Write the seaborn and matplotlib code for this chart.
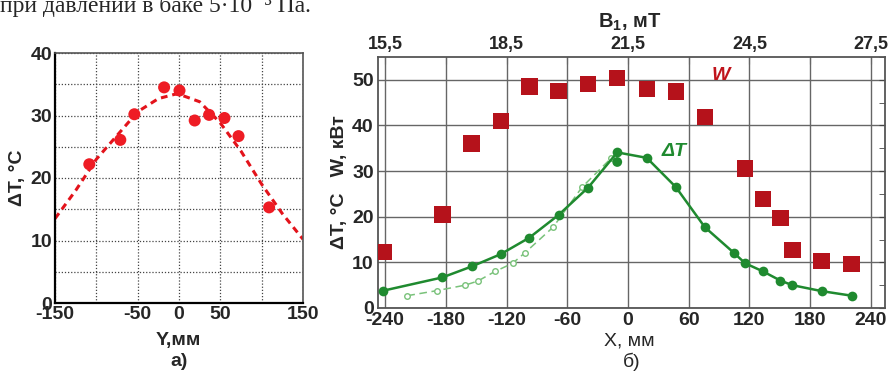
import matplotlib

matplotlib.use("Agg")
import matplotlib.pyplot as plt
import numpy as np
import pandas as pd
import seaborn as sns
from matplotlib.ticker import MultipleLocator

# panel a) -- temperature rise across Y
y_pos = [-108.5, -71, -54, -18, 0.6, 19, 36.4, 55, 72, 109]
y_dt = [22.2, 26.1, 30.2, 34.5, 34.0, 29.2, 30.1, 29.6, 26.7, 15.3]
fit_y = [-150, -125, -100, -75, -50, -25, -5, 0, 25, 50, 75, 100, 125, 150]
fit_dt = [13.5, 18.0, 23.0, 26.8, 30.6, 32.7, 33.4, 33.4, 32.2, 28.8, 24.3, 19.0, 14.3, 10.2]

# panel б) -- power W and temperature rise across X
w_x = [-241.7, -183.4, -154.4, -125.7, -97.5, -68.5, -39.3, -10.6, 18.6, 47.3, 76.0,
       115.8, 133.6, 150.7, 162.5, 191.4, 220.9]
w_kw = [12.3, 20.5, 36.0, 41.0, 48.5, 47.5, 49.1, 50.4, 48.0, 47.4, 41.9,
        30.6, 23.9, 19.7, 12.7, 10.3, 9.6]
dt_x = [-241.7, -183.4, -154.4, -125.7, -97.5, -68.5, -39.3, -10.6, 18.6, 47.3, 76.0,
        104.6, 115.8, 133.6, 150.7, 162.5, 191.4, 220.9]
dt_c = [3.8, 6.7, 9.1, 11.8, 15.4, 20.4, 26.4, 34.1, 32.9, 26.5, 17.7,
        12.1, 9.8, 8.0, 6.0, 5.0, 3.7, 2.7]
extra_x = [-10.6]
extra_c = [32.0]
mir_x = [-218, -189, -161, -148.4, -131.4, -114, -101.8, -74, -45.3, -16.3]
mir_c = [2.7, 3.8, 5.0, 5.9, 8.0, 9.8, 12.1, 17.7, 26.5, 32.9]

a_xticks = [-150, -100, -50, 0, 50, 100, 150]
a_xlabels = ["-150", "", "-50", "0", "50", "", "150"]
a_yticks = [0, 5, 10, 15, 20, 25, 30, 35, 40]
a_ylabels = ["0", "", "10", "", "20", "", "30", "", "40"]
b_xticks = [-240, -180, -120, -60, 0, 60, 120, 180, 240]
b_yticks = [0, 10, 20, 30, 40, 50]
b1_ticks = [15.5, 17.0, 18.5, 20.0, 21.5, 23.0, 24.5, 26.0, 27.5]
b1_labels = ["15,5", "", "18,5", "", "21,5", "", "24,5", "", "27,5"]

sns.set_style("white")
plt.rcParams["font.family"] = ["Liberation Sans", "DejaVu Sans"]
plt.rcParams["font.weight"] = "bold"
plt.rcParams["axes.labelweight"] = "bold"
plt.rcParams["axes.unicode_minus"] = False
plt.rcParams["mathtext.fontset"] = "custom"
plt.rcParams["mathtext.rm"] = "Liberation Sans:bold"
plt.rcParams["mathtext.bf"] = "Liberation Sans:bold"

FS = 14

fig = plt.figure(figsize=(8.88, 3.72), dpi=100)
fig.text(0.0, 1 - 12 / 372, "при давлении в баке 5·10⁻³ Па.", fontsize=17,
         family=["Liberation Serif", "DejaVu Serif"], weight="normal", va="baseline")

# ---- a)
ax1 = fig.add_axes([55 / 888, 69 / 372, 248 / 888, 250 / 372])
df_fit = pd.DataFrame({"y": fit_y, "dt": fit_dt})
sns.lineplot(data=df_fit, x="y", y="dt", ax=ax1, color="#e3131b", lw=2.2,
             sort=False, estimator=None)
ax1.lines[0].set_dashes([2.2, 1.6])
sns.scatterplot(x=y_pos, y=y_dt, ax=ax1, color="#ee1c24", s=75, edgecolor="none", zorder=5)
ax1.set_xlim(-150, 150)
ax1.set_ylim(0, 40)
ax1.set_xticks(a_xticks)
ax1.set_xticklabels(a_xlabels, fontweight="bold")
ax1.set_yticks(a_yticks)
ax1.set_yticklabels(a_ylabels, fontweight="bold")
ax1.xaxis.set_minor_locator(MultipleLocator(10))
ax1.yaxis.set_minor_locator(MultipleLocator(1))
ax1.tick_params(which="both", direction="in", length=4, width=1, color="#222", labelsize=FS, pad=2)
ax1.tick_params(which="minor", length=3)
ax1.grid(True, which="major", ls=(0, (1, 1.5)), color="#444", lw=0.9)
for s in ["left", "bottom"]:
    ax1.spines[s].set_color("black")
    ax1.spines[s].set_linewidth(1.6)
for s in ["top", "right"]:
    ax1.spines[s].set_color("#555")
    ax1.spines[s].set_linewidth(1.2)
ax1.set_xlabel("")
ax1.set_ylabel("ΔT, °C", fontsize=FS, labelpad=3)
fig.text(178 / 888, 1 - 341 / 372, "Y,мм", ha="center", va="center", fontsize=FS)
fig.text(179 / 888, 1 - 361 / 372, "а)", ha="center", va="center", fontsize=FS)

# ---- б)
ax2 = fig.add_axes([378 / 888, 64 / 372, 507 / 888, 251 / 372])
sns.lineplot(x=dt_x, y=dt_c, ax=ax2, color="#1f8a2f", lw=1.8, sort=False, estimator=None,
             marker="o", markersize=7, markeredgecolor="none", zorder=4)
sns.scatterplot(x=extra_x, y=extra_c, ax=ax2, color="#1f8a2f", s=50, edgecolor="none", zorder=4)
sns.lineplot(x=mir_x, y=mir_c, ax=ax2, color="#79c27a", lw=1.1, sort=False, estimator=None,
             marker="o", markersize=4, markerfacecolor="white", markeredgecolor="#79c27a",
             markeredgewidth=1, zorder=3)
ax2.lines[-1].set_dashes([5, 3])
sns.scatterplot(x=w_x, y=w_kw, ax=ax2, color="#b5121b", marker="s", s=140, edgecolor="none", zorder=5)
ax2.set_xlim(-247, 254)
ax2.set_ylim(0, 55)
ax2.set_xticks(b_xticks)
ax2.set_xticklabels([str(t) for t in b_xticks], fontweight="bold")
ax2.set_yticks(b_yticks)
ax2.set_yticklabels([str(t) for t in b_yticks], fontweight="bold")
ax2.yaxis.set_minor_locator(MultipleLocator(5))
ax2.tick_params(which="both", direction="in", length=4, color="#444", labelsize=FS, pad=3,
                right=True)
ax2.grid(True, which="major", color="#666", lw=1.0)
for s in ax2.spines.values():
    s.set_color("#555")
    s.set_linewidth(1.3)
ax2.set_ylabel("ΔT, °C   W, кВт", fontsize=FS, labelpad=3)
ax2.text(92, 51, "W", color="#c0141c", fontsize=14, style="italic", ha="center", va="center")
ax2.text(46, 34.3, "ΔT", color="#1f8a2f", fontsize=14, style="italic", ha="center", va="center")

top = ax2.secondary_xaxis("top", functions=(lambda x: 21.5 + x / 40, lambda b: (b - 21.5) * 40))
top.set_xticks(b1_ticks)
top.set_xticklabels(b1_labels, fontweight="bold")
top.tick_params(direction="in", length=5, color="#444", labelsize=13, pad=3)
top.spines["top"].set_visible(False)
fig.text(630 / 888, 1 - 22 / 372, r"$\mathbf{B_1}$, мТ", ha="center", va="center", fontsize=14.5)
fig.text(629 / 888, 1 - 341 / 372, "X, мм", ha="center", va="center", fontsize=FS, weight="normal")
fig.text(632 / 888, 1 - 362 / 372, "б)", ha="center", va="center", fontsize=FS, weight="normal")

fig.savefig("out.png", dpi=100)
